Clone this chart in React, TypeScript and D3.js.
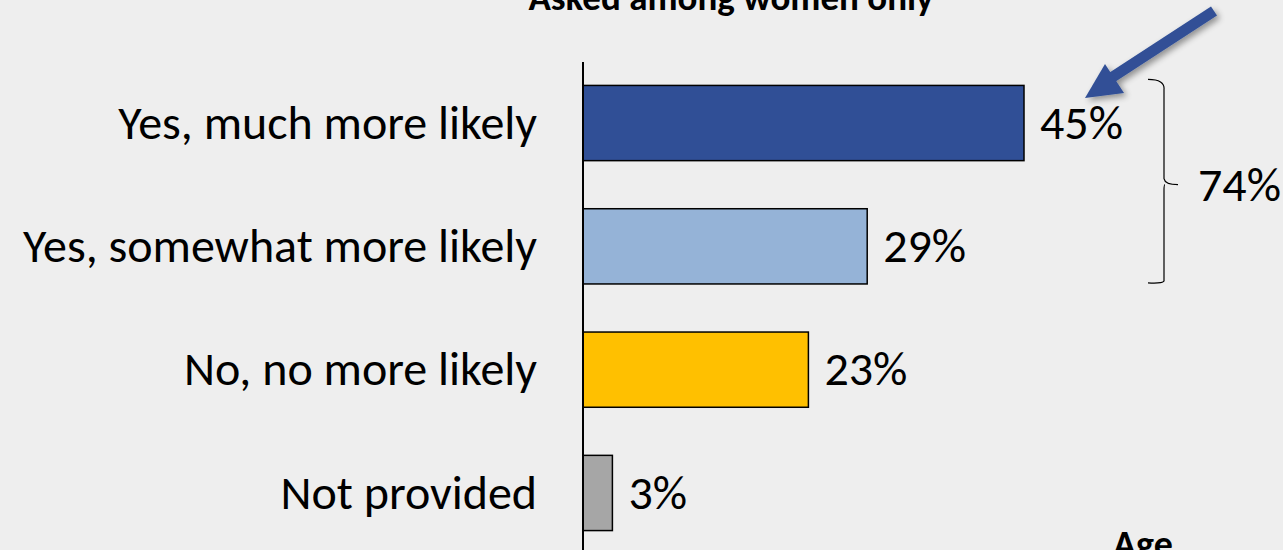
import React from "react";
import * as d3 from "d3";

const categories = ["Yes, much more likely", "Yes, somewhat more likely", "No, no more likely", "Not provided"];
const values = [45, 29, 23, 3];
const colors = ["#304f96", "#95b3d7", "#ffc000", "#a6a6a6"];
const bracketTotal = "74%";
const title = "Asked among women only";
const footerLabel = "Age";

const W = 1283;
const H = 550;
const FONT = "Carlito, Calibri, 'Liberation Sans', Arial, sans-serif";
const FS = 48;

export default function App() {
  const x = d3.scaleLinear().domain([0, 45]).range([583, 1024]);
  const y = d3.scaleBand<string>().domain(categories).range([62, 554]).paddingInner(0.39).paddingOuter(0.19);
  const bw = y.bandwidth();
  const y0 = y(categories[0])!;
  const y1 = y(categories[1])!;
  const mid = (y0 + y1 + bw) / 2;
  const arrowPath = d3.line()([
    [1214, 11],
    [1108, 80],
  ]);
  return (
    <div style={{ position: "absolute", left: 0, top: 0 }}>
      <svg width={W} height={H} style={{ display: "block", background: "#eeeeee" }}>
        <defs>
          <filter id="sh" x="-20%" y="-20%" width="140%" height="140%">
            <feGaussianBlur in="SourceAlpha" stdDeviation="3" />
            <feOffset dx="3" dy="3" result="b" />
            <feComponentTransfer><feFuncA type="linear" slope="0.4" /></feComponentTransfer>
            <feMerge><feMergeNode /><feMergeNode in="SourceGraphic" /></feMerge>
          </filter>
        </defs>
        <text x={731} y={10} textAnchor="middle" fontFamily={FONT} fontWeight="bold" fontSize={37} fill="#000">{title}</text>
        {categories.map((c, i) => (
          <g key={c}>
            <rect x={x(0)} y={y(c)} width={x(values[i]) - x(0)} height={bw} fill={colors[i]} stroke="#000" strokeWidth={1.5} />
            <text x={537} y={y(c)! + bw / 2} dy="0.33em" textAnchor="end" fontFamily={FONT} fontSize={FS} fill="#000">{c}</text>
            <text x={x(values[i]) + 16} y={y(c)! + bw / 2} dy="0.33em" textAnchor="start" fontFamily={FONT} fontSize={FS} fill="#000">{values[i]}%</text>
          </g>
        ))}
        <line x1={583} x2={583} y1={62} y2={H} stroke="#000" strokeWidth={2} />
        <path
          d={`M1148,${y0 - 6} Q1165,${y0 - 6} 1164,${y0 + 4} L1164,${mid - 6} Q1165,${mid} 1178,${mid} M1165,${mid} Q1164,${mid} 1164,${mid + 6} L1164,${y1 + bw - 4} Q1165,${y1 + bw} 1148,${y1 + bw - 1}`}
          fill="none" stroke="#000" strokeWidth={1.2}
        />
        <text x={1198} y={mid} dy="0.33em" fontFamily={FONT} fontSize={FS} fill="#000">{bracketTotal}</text>
        <g filter="url(#sh)">
          <path d={arrowPath!} stroke="#304f96" strokeWidth={11} fill="none" />
          <polygon points="1085,98 1105,64 1124,93" fill="#304f96" />
        </g>
        <text x={1113} y={557} fontFamily={FONT} fontWeight="bold" fontSize={38} fill="#000">{footerLabel}</text>
      </svg>
    </div>
  );
}
